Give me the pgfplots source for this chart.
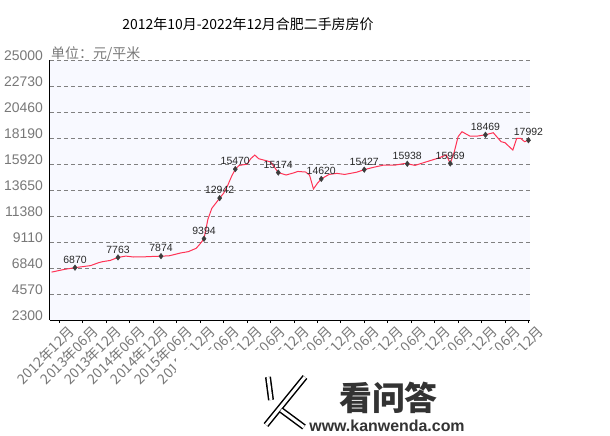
\documentclass[border=0pt]{standalone}
\usepackage{fontspec}
\setmainfont{Liberation Sans}
\newfontfamily\cjk{Noto Sans CJK SC}
\usepackage{pgfplots}
\pgfplotsset{compat=1.18}
\definecolor{bgc}{RGB}{248,249,255}
\definecolor{tickgray}{RGB}{120,120,120}
\definecolor{gridgray}{RGB}{128,128,128}
\definecolor{linec}{RGB}{255,51,85}
\definecolor{markc}{RGB}{60,60,60}
\definecolor{labc}{RGB}{40,40,40}
\definecolor{wmc}{RGB}{51,51,51}
\begin{document}
\begin{tikzpicture}
\path[use as bounding box, fill=white] (-50bp,-116bp) rectangle (560bp,320bp);
\begin{axis}[
  at={(0,0)}, anchor=south west,
  scale only axis, width=480bp, height=260bp,
  xmin=-0.4, xmax=122.4, ymin=2300, ymax=25000,
  clip=false, scaled y ticks=false,
  axis x line*=bottom, axis y line*=left,
  axis line style={-, black, line width=1bp},
  axis background/.style={fill=bgc},
  ytick={2300,4570,6840,9110,11380,13650,15920,18190,20460,22730,25000},
  yticklabels={2300,4570,6840,9110,11380,13650,15920,18190,20460,22730,25000},
  ymajorgrids,
  grid style={gridgray, line width=0.9bp, dash pattern=on 4bp off 3bp},
  ytick style={draw=none},
  xtick={2,8,...,122},
  xticklabels={2012年12月,2013年06月,2013年12月,2014年06月,2014年12月,2015年06月,2015年12月,2016年06月,2016年12月,2017年06月,2017年12月,2018年06月,2018年12月,2019年06月,2019年12月,2020年06月,2020年12月,2021年06月,2021年12月,2022年06月,2022年12月},
  xtick style={black, line width=0.8bp},
  major tick length=3bp, tick align=outside,
  yticklabel style={font=\fontsize{14}{14}\selectfont, text=tickgray, yshift=4bp, inner sep=4bp},
  xticklabel style={font=\cjk\fontsize{14}{14}\selectfont, text=tickgray, rotate=45, anchor=east, yshift=-13bp, xshift=6bp, inner sep=1bp},
]
\addplot[linec, line width=1bp, no marks] coordinates {
(0,6480) (3,6700) (6,6870) (8,6960) (10,7050) (12,7300) (13,7390) (15,7500) (17,7763)
(19,7880) (21,7800) (24,7820) (26,7850) (28,7874) (30,7900) (31,7980) (33,8150) (35,8270)
(37,8560) (38,8950) (39,9394) (40,11100) (41,12050) (42,12490) (43,12942) (44,13360)
(45,14000) (46,14800) (47,15470) (48,15800) (50,15900) (51,16400) (52,16700) (53,16380)
(55,16200) (56,16100) (57,15650) (58,15174) (60,14960) (62,15150) (63,15270) (65,15220)
(66,14950) (67,13740) (68,14230) (69,14620) (71,15010) (73,15100) (75,15010) (78,15200)
(80,15427) (82,15600) (85,15830) (88,15830) (90,15950) (91,15938) (93,15800) (97,16230)
(99,16440) (101,16710) (102,15969) (103,16950) (104,18300) (105,18740) (107,18360)
(109,18360) (111,18469) (113,18650) (115,17870) (116,17780) (118,17140) (119,18160)
(120,18160) (121,17870) (122,17992)
};
\addplot[only marks, mark=diamond*, mark size=2.8bp, mark options={fill=markc, draw=markc},
  point meta=explicit symbolic, nodes near coords,
  nodes near coords style={font=\fontsize{10.5}{10.5}\selectfont, text=labc, anchor=south, yshift=2.5bp, inner sep=1.5bp}]
coordinates {
(6,6870) [6870] (17,7763) [7763] (28,7874) [7874] (39,9394) [9394] (43,12942) [12942]
(47,15470) [15470] (58,15174) [15174] (69,14620) [14620] (80,15427) [15427]
(91,15938) [15938] (102,15969) [15969] (111,18469) [18469] (122,17992) [17992]
};
\end{axis}
\node[font=\cjk\fontsize{14}{14}\selectfont, black] at (198bp,296bp) {2012年10月-2022年12月合肥二手房房价};
\node[font=\cjk\fontsize{14}{14}\selectfont, text=tickgray, anchor=base west, inner sep=0pt] at (1bp,261bp) {单位：元/平米};
% watermark overlay
\fill[white] (126bp,-30bp) rectangle (560bp,-116bp);
\draw[black, line width=6bp] (218bp,-57bp) -- (221bp,-80bp);
\draw[black, line width=6bp] (255bp,-57bp) -- (216bp,-105bp);
\draw[black, line width=6bp] (231bp,-90bp) -- (254bp,-107bp);
\draw[white, line width=3bp] (218bp,-57bp) -- (221bp,-80bp);
\draw[white, line width=3bp] (255bp,-57bp) -- (216bp,-105bp);
\draw[white, line width=3bp] (231bp,-90bp) -- (254bp,-107bp);
\node[font=\cjk\bfseries\fontsize{33}{33}\selectfont, text=wmc] at (338.5bp,-77.5bp) {看问答};
\node[font=\bfseries\fontsize{16}{16}\selectfont, text=wmc] at (337bp,-106bp) {www.kanwenda.com};
\end{tikzpicture}
\end{document}
